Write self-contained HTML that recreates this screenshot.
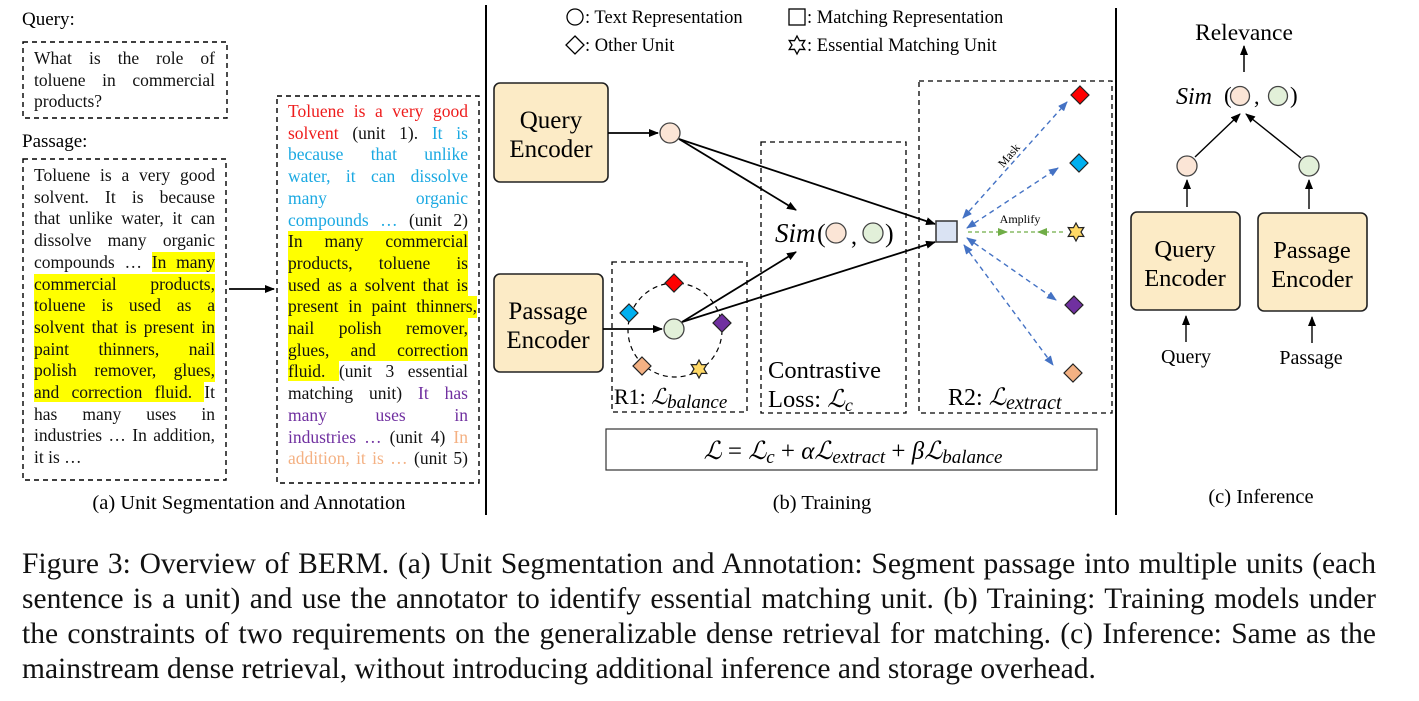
<!DOCTYPE html>
<html><head><meta charset="utf-8">
<style>
body{margin:0;background:#fff;}
#wrap{position:relative;width:1419px;height:701px;overflow:hidden;font-family:"Liberation Serif",serif;}
svg{position:absolute;left:0;top:0;}
.blk{position:absolute;font-size:17.5px;line-height:21.7px;color:#111;}
.blk div{text-align:justify;text-align-last:justify;white-space:nowrap;}
.blk div.l{text-align-last:left;}
.h{background:#ffff00;}
.r{color:#ee1c1c}.b{color:#1ba9e2}.p{color:#7030a0}.o{color:#f4b183}
.cap{position:absolute;left:22px;width:1354px;font-size:29.5px;line-height:35px;color:#111;}
.cap div{text-align:justify;text-align-last:justify;white-space:nowrap;}
.cap div.l{text-align-last:left;}
</style></head><body><div id="wrap">
<svg width="1419" height="701" viewBox="0 0 1419 701" font-family="Liberation Serif, serif">
<defs>
<marker id="ab" markerWidth="10" markerHeight="8" refX="9" refY="4" orient="auto" markerUnits="userSpaceOnUse"><path d="M0,0 L10,4 L0,8 z" fill="#000"/></marker>
<marker id="abl" markerWidth="10" markerHeight="8" refX="9" refY="4" orient="auto-start-reverse" markerUnits="userSpaceOnUse"><path d="M0,0 L10,4 L0,8 z" fill="#4472c4"/></marker>
<polygon id="star" points="0,-9 2.5,-4.33 7.79,-4.5 5,0 7.79,4.5 2.5,4.33 0,9 -2.5,4.33 -7.79,4.5 -5,0 -7.79,-4.5 -2.5,-4.33"/>
<polygon id="dia" points="0,-9 9,0 0,9 -9,0"/>
</defs>
<line x1="486" y1="5" x2="486" y2="515" stroke="#000" stroke-width="2"/>
<line x1="1116" y1="8" x2="1116" y2="515" stroke="#000" stroke-width="2"/>
<!-- left -->
<text x="22" y="25" font-size="19">Query:</text>
<text x="22" y="147" font-size="19">Passage:</text>
<rect x="23" y="42" width="204" height="76" fill="none" stroke="#000" stroke-width="1.4" stroke-dasharray="5,4"/>
<rect x="23" y="159" width="203" height="321" fill="none" stroke="#000" stroke-width="1.4" stroke-dasharray="5,4"/>
<rect x="277" y="96" width="202" height="387" fill="none" stroke="#000" stroke-width="1.4" stroke-dasharray="5,4"/>
<line x1="229" y1="289" x2="274" y2="289" stroke="#000" stroke-width="1.8" marker-end="url(#ab)"/>
<text x="249" y="509" font-size="20.5" text-anchor="middle">(a) Unit Segmentation and Annotation</text>
<!-- legend -->
<circle cx="575" cy="17" r="8" fill="none" stroke="#000" stroke-width="1.3"/>
<text x="585" y="23" font-size="18.5">: Text Representation</text>
<use href="#dia" transform="translate(575,45)" fill="none" stroke="#000" stroke-width="1.3"/>
<text x="585" y="51" font-size="18.5">: Other Unit</text>
<rect x="789" y="9" width="16" height="16" fill="none" stroke="#000" stroke-width="1.3"/>
<text x="807" y="23" font-size="18.5">: Matching Representation</text>
<use href="#star" transform="translate(797,45)" fill="none" stroke="#000" stroke-width="1.3"/>
<text x="807" y="51" font-size="18.5">: Essential Matching Unit</text>
<!-- encoders -->
<rect x="494" y="83" width="114" height="99" rx="6" fill="#fcebc6" stroke="#222" stroke-width="1.6"/>
<text x="551" y="128" font-size="25" text-anchor="middle">Query</text>
<text x="551" y="157" font-size="25" text-anchor="middle">Encoder</text>
<rect x="494" y="274" width="109" height="98" rx="6" fill="#fcebc6" stroke="#222" stroke-width="1.6"/>
<text x="548" y="319" font-size="25" text-anchor="middle">Passage</text>
<text x="548" y="348" font-size="25" text-anchor="middle">Encoder</text>
<!-- boxes -->
<rect x="612" y="262" width="135" height="150" fill="none" stroke="#000" stroke-width="1.3" stroke-dasharray="5,4"/>
<rect x="761" y="142" width="145" height="271" fill="none" stroke="#000" stroke-width="1.3" stroke-dasharray="5,4"/>
<rect x="919" y="81" width="193" height="332" fill="none" stroke="#000" stroke-width="1.3" stroke-dasharray="5,4"/>
<circle cx="675" cy="330" r="47" fill="none" stroke="#000" stroke-width="1.2" stroke-dasharray="5,4"/>
<text x="614" y="404" font-size="22">R1: <tspan font-style="italic">ℒ</tspan><tspan font-style="italic" font-size="19" dy="4">balance</tspan></text>
<text x="768" y="378" font-size="24.5">Contrastive</text>
<text x="768" y="407" font-size="24.5">Loss: <tspan font-style="italic">ℒ</tspan><tspan font-style="italic" font-size="18" dy="4">c</tspan></text>
<text x="948" y="405" font-size="24">R2: <tspan font-style="italic">ℒ</tspan><tspan font-style="italic" font-size="20" dy="4">extract</tspan></text>
<!-- sim middle -->
<text x="775" y="242" font-size="27" font-style="italic">Sim</text>
<text x="817" y="242" font-size="26">(</text>
<circle cx="836" cy="233" r="10" fill="#fbe5d6" stroke="#444" stroke-width="1.3"/>
<text x="851" y="244" font-size="24">,</text>
<circle cx="873" cy="233" r="10" fill="#e2f0d9" stroke="#444" stroke-width="1.3"/>
<text x="885" y="242" font-size="26">)</text>
<!-- arrows -->
<line x1="608" y1="133" x2="658" y2="133" stroke="#000" stroke-width="1.8" marker-end="url(#ab)"/>
<line x1="603" y1="329" x2="662" y2="329" stroke="#000" stroke-width="1.8" marker-end="url(#ab)"/>
<line x1="679" y1="139" x2="796" y2="210" stroke="#000" stroke-width="1.8" marker-end="url(#ab)"/>
<line x1="679" y1="139" x2="935" y2="224" stroke="#000" stroke-width="1.8" marker-end="url(#ab)"/>
<line x1="682" y1="322" x2="796" y2="252" stroke="#000" stroke-width="1.8" marker-end="url(#ab)"/>
<line x1="682" y1="322" x2="935" y2="242" stroke="#000" stroke-width="1.8" marker-end="url(#ab)"/>
<circle cx="670" cy="133" r="10" fill="#fbe5d6" stroke="#444" stroke-width="1.3"/>
<circle cx="674" cy="329" r="10" fill="#e2f0d9" stroke="#444" stroke-width="1.3"/>
<use href="#dia" transform="translate(674,283)" fill="#ff0000" stroke="#222" stroke-width="1.2"/>
<use href="#dia" transform="translate(629,313)" fill="#00b0f0" stroke="#222" stroke-width="1.2"/>
<use href="#dia" transform="translate(722,323)" fill="#7030a0" stroke="#222" stroke-width="1.2"/>
<use href="#dia" transform="translate(642,366)" fill="#f4b183" stroke="#222" stroke-width="1.2"/>
<use href="#star" transform="translate(699,369)" fill="#ffd966" stroke="#222" stroke-width="1.2"/>
<!-- R2 -->
<rect x="936" y="221" width="21" height="21" fill="#dae3f3" stroke="#333" stroke-width="1.5"/>
<g stroke="#4472c4" stroke-width="1.4" stroke-dasharray="5,4" fill="none">
<line x1="963" y1="218" x2="1067" y2="102" marker-start="url(#abl)" marker-end="url(#abl)"/>
<line x1="967" y1="228" x2="1058" y2="168" marker-start="url(#abl)" marker-end="url(#abl)"/>
<line x1="967" y1="238" x2="1056" y2="300" marker-start="url(#abl)" marker-end="url(#abl)"/>
<line x1="964" y1="245" x2="1053" y2="365" marker-start="url(#abl)" marker-end="url(#abl)"/>
</g>
<line x1="968" y1="232" x2="1066" y2="232" stroke="#70ad47" stroke-width="1.2" stroke-dasharray="4,3"/>
<path d="M998,228 L1008,232 L998,236 z" fill="#70ad47"/>
<path d="M1047,228 L1037,232 L1047,236 z" fill="#70ad47"/>
<text x="1020" y="223" font-size="12" text-anchor="middle">Amplify</text>
<text x="1012" y="158" font-size="12" text-anchor="middle" transform="rotate(-50 1012 158)">Mask</text>
<use href="#dia" transform="translate(1080,95)" fill="#ff0000" stroke="#222" stroke-width="1.2"/>
<use href="#dia" transform="translate(1079,163)" fill="#00b0f0" stroke="#222" stroke-width="1.2"/>
<use href="#star" transform="translate(1076,232)" fill="#ffd966" stroke="#222" stroke-width="1.2"/>
<use href="#dia" transform="translate(1074,305)" fill="#7030a0" stroke="#222" stroke-width="1.2"/>
<use href="#dia" transform="translate(1073,373)" fill="#f4b183" stroke="#222" stroke-width="1.2"/>
<!-- formula -->
<rect x="606" y="429" width="491" height="41" fill="none" stroke="#333" stroke-width="1.2"/>
<text x="853" y="459" font-size="25" text-anchor="middle" font-style="italic">ℒ <tspan font-style="normal">=</tspan> ℒ<tspan font-size="19" dy="4">c</tspan><tspan dy="-4" font-style="normal"> + </tspan>αℒ<tspan font-size="19" dy="4">extract</tspan><tspan dy="-4" font-style="normal"> + </tspan>βℒ<tspan font-size="19" dy="4">balance</tspan></text>
<text x="822" y="509" font-size="20.5" text-anchor="middle">(b) Training</text>
<!-- inference -->
<text x="1244" y="40" font-size="23.5" text-anchor="middle">Relevance</text>
<line x1="1244" y1="72" x2="1244" y2="46" stroke="#000" stroke-width="1.5" marker-end="url(#ab)"/>
<text x="1176" y="104" font-size="24" font-style="italic">Sim</text>
<text x="1224" y="103" font-size="23">(</text>
<circle cx="1240" cy="96" r="9.5" fill="#fbe5d6" stroke="#444" stroke-width="1.3"/>
<text x="1254" y="104" font-size="22">,</text>
<circle cx="1278" cy="96" r="9.5" fill="#e2f0d9" stroke="#444" stroke-width="1.3"/>
<text x="1290" y="103" font-size="23">)</text>
<line x1="1195" y1="157" x2="1240" y2="114" stroke="#000" stroke-width="1.4" marker-end="url(#ab)"/>
<line x1="1301" y1="158" x2="1246" y2="114" stroke="#000" stroke-width="1.4" marker-end="url(#ab)"/>
<circle cx="1187" cy="166" r="10" fill="#fbe5d6" stroke="#444" stroke-width="1.3"/>
<circle cx="1309" cy="166" r="10" fill="#e2f0d9" stroke="#444" stroke-width="1.3"/>
<line x1="1187" y1="207" x2="1187" y2="180" stroke="#000" stroke-width="1.4" marker-end="url(#ab)"/>
<line x1="1309" y1="209" x2="1309" y2="180" stroke="#000" stroke-width="1.4" marker-end="url(#ab)"/>
<rect x="1131" y="212" width="109" height="98" rx="6" fill="#fcebc6" stroke="#222" stroke-width="1.6"/>
<text x="1185" y="257" font-size="24.5" text-anchor="middle">Query</text>
<text x="1185" y="286" font-size="24.5" text-anchor="middle">Encoder</text>
<rect x="1258" y="213" width="109" height="98" rx="6" fill="#fcebc6" stroke="#222" stroke-width="1.6"/>
<text x="1312" y="258" font-size="24.5" text-anchor="middle">Passage</text>
<text x="1312" y="287" font-size="24.5" text-anchor="middle">Encoder</text>
<line x1="1186" y1="342" x2="1186" y2="316" stroke="#000" stroke-width="1.4" marker-end="url(#ab)"/>
<line x1="1312" y1="343" x2="1312" y2="317" stroke="#000" stroke-width="1.4" marker-end="url(#ab)"/>
<text x="1186" y="363" font-size="20" text-anchor="middle">Query</text>
<text x="1311" y="364" font-size="20" text-anchor="middle">Passage</text>
<text x="1261" y="503" font-size="20.5" text-anchor="middle">(c) Inference</text>
</svg>

<div class="blk" style="left:34px;top:48px;width:181px;">
<div>What is the role of</div>
<div>toluene in commercial</div>
<div class="l">products?</div>
</div>

<div class="blk" style="left:34px;top:165px;width:181px;">
<div>Toluene is a very good</div>
<div>solvent. It is because</div>
<div>that unlike water, it can</div>
<div>dissolve many organic</div>
<div>compounds … <span class="h">In many</span></div>
<div class="h">commercial products,</div>
<div class="h">toluene is used as a</div>
<div class="h">solvent that is present in</div>
<div class="h">paint thinners, nail</div>
<div class="h">polish remover, glues,</div>
<div><span class="h">and correction fluid. </span>It</div>
<div>has many uses in</div>
<div>industries … In addition,</div>
<div class="l">it is …</div>
</div>

<div class="blk" style="left:288px;top:101px;width:180px;">
<div class="r">Toluene is a very good</div>
<div><span class="r">solvent</span> (unit 1). <span class="b">It is</span></div>
<div class="b">because that unlike</div>
<div class="b">water, it can dissolve</div>
<div class="b">many organic</div>
<div><span class="b">compounds …</span> (unit 2)</div>
<div class="h">In many commercial</div>
<div class="h">products, toluene is</div>
<div class="h">used as a solvent that is</div>
<div class="h" style="width:189px">present in paint thinners,</div>
<div class="h">nail polish remover,</div>
<div class="h">glues, and correction</div>
<div><span class="h">fluid. </span> (unit 3 essential</div>
<div>matching unit) <span class="p">It has</span></div>
<div class="p">many uses in</div>
<div><span class="p">industries …</span> (unit 4) <span class="o">In</span></div>
<div><span class="o">addition, it is …</span> (unit 5)</div>
</div>

<div class="cap" style="top:547px;">
<div>Figure 3: Overview of BERM. (a) Unit Segmentation and Annotation: Segment passage into multiple units (each</div>
<div>sentence is a unit) and use the annotator to identify essential matching unit. (b) Training: Training models under</div>
<div>the constraints of two requirements on the generalizable dense retrieval for matching. (c) Inference: Same as the</div>
<div class="l">mainstream dense retrieval, without introducing additional inference and storage overhead.</div>
</div>
</div></body></html>
